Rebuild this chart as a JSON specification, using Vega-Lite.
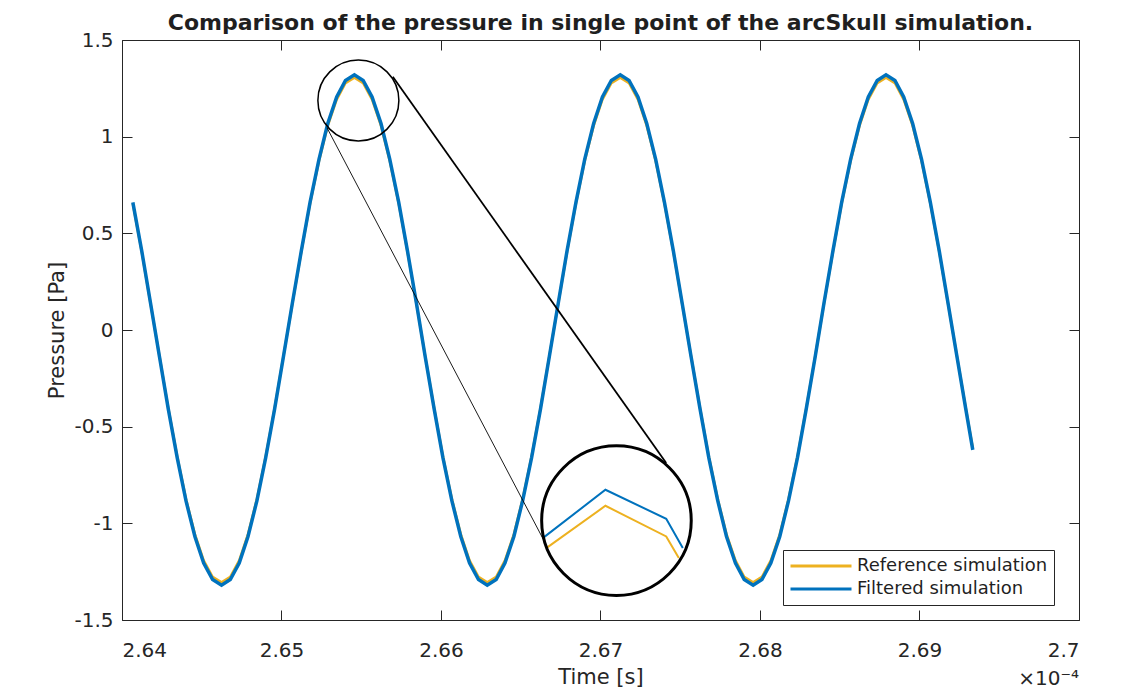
{
  "$schema": "https://vega.github.io/schema/vega-lite/v6.json",
  "width": 957,
  "height": 580,
  "autosize": {"type": "none"},
  "padding": {"left": 122, "top": 40, "right": 52, "bottom": 76},
  "background": "white",
  "title": {
    "text": "Comparison of the pressure in single point of the arcSkull simulation.",
    "font": "DejaVu Sans",
    "fontSize": 22,
    "fontWeight": "bold",
    "color": "#1f1f1f",
    "anchor": "middle",
    "offset": -5
  },
  "config": {
    "view": {"stroke": null},
    "axis": {
      "labelFont": "DejaVu Sans",
      "labelFontSize": 20,
      "labelColor": "#262626",
      "titleFont": "DejaVu Sans",
      "titleFontSize": 21,
      "titleFontWeight": "normal",
      "titleColor": "#262626",
      "domainColor": "#262626",
      "domainWidth": 1,
      "tickColor": "#262626",
      "tickWidth": 1,
      "tickSize": -10,
      "grid": false
    },
    "legend": {
      "orient": "none",
      "legendX": 661,
      "legendY": 510,
      "title": null,
      "strokeColor": "#262626",
      "fillColor": "white",
      "padding": 6,
      "labelFont": "DejaVu Sans",
      "labelFontSize": 18,
      "labelColor": "#1f1f1f",
      "labelLimit": 400,
      "symbolType": "stroke",
      "symbolSize": 3721,
      "symbolStrokeWidth": 3,
      "clipHeight": 20,
      "rowPadding": 3,
      "labelOffset": 4
    }
  },
  "datasets": {
    "pressure": [
      {"t": 2.64068, "ref": 0.653, "filt": 0.66},
      {"t": 2.64124, "ref": 0.403, "filt": 0.408},
      {"t": 2.64179, "ref": 0.136, "filt": 0.138},
      {"t": 2.64235, "ref": -0.136, "filt": -0.138},
      {"t": 2.6429, "ref": -0.403, "filt": -0.408},
      {"t": 2.64346, "ref": -0.653, "filt": -0.66},
      {"t": 2.64401, "ref": -0.873, "filt": -0.883},
      {"t": 2.64457, "ref": -1.056, "filt": -1.068},
      {"t": 2.64512, "ref": -1.192, "filt": -1.206},
      {"t": 2.64568, "ref": -1.277, "filt": -1.291},
      {"t": 2.64624, "ref": -1.305, "filt": -1.32},
      {"t": 2.64679, "ref": -1.277, "filt": -1.291},
      {"t": 2.64735, "ref": -1.192, "filt": -1.206},
      {"t": 2.6479, "ref": -1.056, "filt": -1.068},
      {"t": 2.64846, "ref": -0.873, "filt": -0.883},
      {"t": 2.64901, "ref": -0.653, "filt": -0.66},
      {"t": 2.64957, "ref": -0.403, "filt": -0.408},
      {"t": 2.65012, "ref": -0.136, "filt": -0.138},
      {"t": 2.65068, "ref": 0.136, "filt": 0.138},
      {"t": 2.65124, "ref": 0.403, "filt": 0.408},
      {"t": 2.65179, "ref": 0.653, "filt": 0.66},
      {"t": 2.65235, "ref": 0.873, "filt": 0.883},
      {"t": 2.6529, "ref": 1.056, "filt": 1.068},
      {"t": 2.65346, "ref": 1.192, "filt": 1.206},
      {"t": 2.65401, "ref": 1.277, "filt": 1.291},
      {"t": 2.65457, "ref": 1.305, "filt": 1.32},
      {"t": 2.65512, "ref": 1.277, "filt": 1.291},
      {"t": 2.65568, "ref": 1.192, "filt": 1.206},
      {"t": 2.65624, "ref": 1.056, "filt": 1.068},
      {"t": 2.65679, "ref": 0.873, "filt": 0.883},
      {"t": 2.65735, "ref": 0.653, "filt": 0.66},
      {"t": 2.6579, "ref": 0.403, "filt": 0.408},
      {"t": 2.65846, "ref": 0.136, "filt": 0.138},
      {"t": 2.65901, "ref": -0.136, "filt": -0.138},
      {"t": 2.65957, "ref": -0.403, "filt": -0.408},
      {"t": 2.66012, "ref": -0.653, "filt": -0.66},
      {"t": 2.66068, "ref": -0.873, "filt": -0.883},
      {"t": 2.66124, "ref": -1.056, "filt": -1.068},
      {"t": 2.66179, "ref": -1.192, "filt": -1.206},
      {"t": 2.66235, "ref": -1.277, "filt": -1.291},
      {"t": 2.6629, "ref": -1.305, "filt": -1.32},
      {"t": 2.66346, "ref": -1.277, "filt": -1.291},
      {"t": 2.66401, "ref": -1.192, "filt": -1.206},
      {"t": 2.66457, "ref": -1.056, "filt": -1.068},
      {"t": 2.66512, "ref": -0.873, "filt": -0.883},
      {"t": 2.66568, "ref": -0.653, "filt": -0.66},
      {"t": 2.66624, "ref": -0.403, "filt": -0.408},
      {"t": 2.66679, "ref": -0.136, "filt": -0.138},
      {"t": 2.66735, "ref": 0.136, "filt": 0.138},
      {"t": 2.6679, "ref": 0.403, "filt": 0.408},
      {"t": 2.66846, "ref": 0.653, "filt": 0.66},
      {"t": 2.66901, "ref": 0.873, "filt": 0.883},
      {"t": 2.66957, "ref": 1.056, "filt": 1.068},
      {"t": 2.67012, "ref": 1.192, "filt": 1.206},
      {"t": 2.67068, "ref": 1.277, "filt": 1.291},
      {"t": 2.67124, "ref": 1.305, "filt": 1.32},
      {"t": 2.67179, "ref": 1.277, "filt": 1.291},
      {"t": 2.67235, "ref": 1.192, "filt": 1.206},
      {"t": 2.6729, "ref": 1.056, "filt": 1.068},
      {"t": 2.67346, "ref": 0.873, "filt": 0.883},
      {"t": 2.67401, "ref": 0.653, "filt": 0.66},
      {"t": 2.67457, "ref": 0.403, "filt": 0.408},
      {"t": 2.67512, "ref": 0.136, "filt": 0.138},
      {"t": 2.67568, "ref": -0.136, "filt": -0.138},
      {"t": 2.67624, "ref": -0.403, "filt": -0.408},
      {"t": 2.67679, "ref": -0.653, "filt": -0.66},
      {"t": 2.67735, "ref": -0.873, "filt": -0.883},
      {"t": 2.6779, "ref": -1.056, "filt": -1.068},
      {"t": 2.67846, "ref": -1.192, "filt": -1.206},
      {"t": 2.67901, "ref": -1.277, "filt": -1.291},
      {"t": 2.67957, "ref": -1.305, "filt": -1.32},
      {"t": 2.68012, "ref": -1.277, "filt": -1.291},
      {"t": 2.68068, "ref": -1.192, "filt": -1.206},
      {"t": 2.68124, "ref": -1.056, "filt": -1.068},
      {"t": 2.68179, "ref": -0.873, "filt": -0.883},
      {"t": 2.68235, "ref": -0.653, "filt": -0.66},
      {"t": 2.6829, "ref": -0.403, "filt": -0.408},
      {"t": 2.68346, "ref": -0.136, "filt": -0.138},
      {"t": 2.68401, "ref": 0.136, "filt": 0.138},
      {"t": 2.68457, "ref": 0.403, "filt": 0.408},
      {"t": 2.68512, "ref": 0.653, "filt": 0.66},
      {"t": 2.68568, "ref": 0.873, "filt": 0.883},
      {"t": 2.68624, "ref": 1.056, "filt": 1.068},
      {"t": 2.68679, "ref": 1.192, "filt": 1.206},
      {"t": 2.68735, "ref": 1.277, "filt": 1.291},
      {"t": 2.6879, "ref": 1.305, "filt": 1.32},
      {"t": 2.68846, "ref": 1.277, "filt": 1.291},
      {"t": 2.68901, "ref": 1.192, "filt": 1.206},
      {"t": 2.68957, "ref": 1.056, "filt": 1.068},
      {"t": 2.69013, "ref": 0.873, "filt": 0.883},
      {"t": 2.69068, "ref": 0.653, "filt": 0.66},
      {"t": 2.69124, "ref": 0.403, "filt": 0.408},
      {"t": 2.69179, "ref": 0.136, "filt": 0.138},
      {"t": 2.69235, "ref": -0.136, "filt": -0.138},
      {"t": 2.6929, "ref": -0.403, "filt": -0.408},
      {"t": 2.69334, "ref": -0.61, "filt": -0.62}
    ],
    "inset": [
      {"t": 2.66660, "p": -1.128, "series": "Reference simulation"},
      {"t": 2.67031, "p": -0.9092, "series": "Reference simulation"},
      {"t": 2.67412, "p": -1.068, "series": "Reference simulation"},
      {"t": 2.67491, "p": -1.1798, "series": "Reference simulation"},
      {"t": 2.66638, "p": -1.0763, "series": "Filtered simulation"},
      {"t": 2.67031, "p": -0.8264, "series": "Filtered simulation"},
      {"t": 2.67412, "p": -0.9765, "series": "Filtered simulation"},
      {"t": 2.67516, "p": -1.128, "series": "Filtered simulation"}
    ]
  },
  "resolve": {"axis": {"x": "independent", "y": "independent"}},
  "layer": [
    {
      "data": {"name": "pressure"},
      "mark": {"type": "line", "strokeWidth": 2.5, "clip": true},
      "encoding": {
        "x": {
          "field": "t", "type": "quantitative",
          "scale": {"domain": [2.64, 2.7], "nice": false, "zero": false},
          "axis": {
            "orient": "bottom",
            "values": [2.64, 2.65, 2.66, 2.67, 2.68, 2.69, 2.7],
            "labelExpr": "'' + datum.value",
            "labelPadding": 30,
            "title": "Time [s]",
            "titlePadding": 6
          }
        },
        "y": {
          "field": "ref", "type": "quantitative",
          "scale": {"domain": [-1.5, 1.5], "nice": false, "zero": false},
          "axis": {
            "orient": "left",
            "values": [-1.5, -1, -0.5, 0, 0.5, 1, 1.5],
            "labelExpr": "'' + datum.value",
            "labelPadding": 19,
            "title": "Pressure [Pa]",
            "titlePadding": 6
          }
        },
        "color": {
          "datum": "Reference simulation",
          "type": "nominal",
          "scale": {"domain": ["Reference simulation", "Filtered simulation"], "range": ["#EDB120", "#0072BD"]},
          "legend": {"title": null}
        }
      }
    },
    {
      "data": {"name": "pressure"},
      "mark": {"type": "line", "strokeWidth": 3.5, "clip": true},
      "encoding": {
        "x": {
          "field": "t", "type": "quantitative",
          "axis": {
            "orient": "top",
            "values": [2.64, 2.65, 2.66, 2.67, 2.68, 2.69, 2.7],
            "labels": false,
            "title": null
          }
        },
        "y": {
          "field": "filt", "type": "quantitative",
          "axis": {
            "orient": "right",
            "values": [-1.5, -1, -0.5, 0, 0.5, 1, 1.5],
            "labels": false,
            "title": null
          }
        },
        "color": {"datum": "Filtered simulation", "type": "nominal", "legend": {"title": null}}
      }
    },
    {
      "data": {"name": "inset"},
      "mark": {"type": "line", "strokeWidth": 2},
      "encoding": {
        "x": {"field": "t", "type": "quantitative", "axis": null},
        "y": {"field": "p", "type": "quantitative", "axis": null},
        "color": {"field": "series", "type": "nominal", "legend": {"title": null}}
      }
    },
    {
      "data": {"values": [{"t1": 2.65698, "p1": 1.3101, "t2": 2.67412, "p2": -0.6883}]},
      "mark": {"type": "rule", "color": "black", "strokeWidth": 1.8},
      "encoding": {
        "x": {"field": "t1", "type": "quantitative", "axis": null},
        "y": {"field": "p1", "type": "quantitative", "axis": null},
        "x2": {"field": "t2"},
        "y2": {"field": "p2"}
      }
    },
    {
      "data": {"values": [{"t1": 2.65285, "p1": 1.0463, "t2": 2.66643, "p2": -1.0851}]},
      "mark": {"type": "rule", "color": "black", "strokeWidth": 0.9},
      "encoding": {
        "x": {"field": "t1", "type": "quantitative", "axis": null},
        "y": {"field": "p1", "type": "quantitative", "axis": null},
        "x2": {"field": "t2"},
        "y2": {"field": "p2"}
      }
    },
    {
      "data": {"values": [{"t": 2.65482, "p": 1.187}]},
      "mark": {"type": "point", "shape": "circle", "filled": false, "size": 6561, "color": "black", "strokeWidth": 1.5, "opacity": 1},
      "encoding": {
        "x": {"field": "t", "type": "quantitative", "axis": null},
        "y": {"field": "p", "type": "quantitative", "axis": null}
      }
    },
    {
      "data": {"values": [{"t": 2.671, "p": -0.9858}]},
      "mark": {"type": "point", "shape": "circle", "filled": false, "size": 22380, "color": "black", "strokeWidth": 3, "opacity": 1},
      "encoding": {
        "x": {"field": "t", "type": "quantitative", "axis": null},
        "y": {"field": "p", "type": "quantitative", "axis": null}
      }
    },
    {
      "data": {"values": [{"t": 2.7, "p": -1.835}]},
      "mark": {"type": "text", "text": "×10⁻⁴", "font": "DejaVu Sans", "fontSize": 20, "color": "#262626", "align": "right", "baseline": "alphabetic"},
      "encoding": {
        "x": {"field": "t", "type": "quantitative", "axis": null},
        "y": {"field": "p", "type": "quantitative", "axis": null}
      }
    }
  ]
}
